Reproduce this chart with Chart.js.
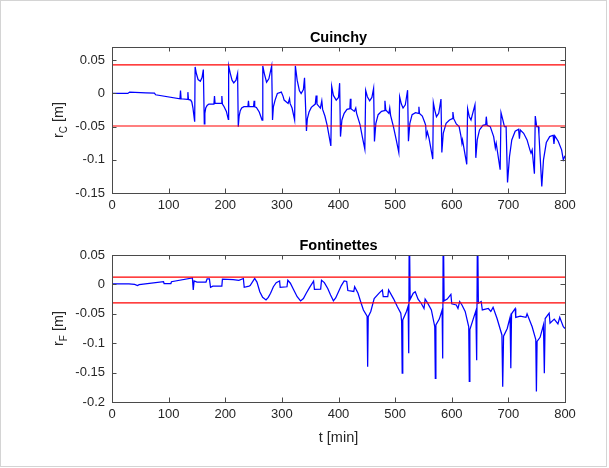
<!DOCTYPE html>
<html>
<head>
<meta charset="utf-8">
<script src="https://cdn.jsdelivr.net/npm/chart.js@4/dist/chart.umd.min.js"></script>
<style>
  body { margin: 0; background: #fff; }
  #fig { position: relative; width: 609px; height: 468px; background: #fff; }
  #fig canvas { position: absolute; left: 0; }
  #frame { position: absolute; left: 0; top: 0; width: 605px; height: 465px; border: 1px solid #d4d4d4; pointer-events: none; }
</style>
</head>
<body>
<div id="fig">
  <canvas id="cuinchy" width="609" height="220" style="top:0"></canvas>
  <canvas id="fontinettes" width="609" height="248" style="top:220px"></canvas>
  <div id="frame"></div>
</div>
<script>
// time axis [min]
const xTicks = [0, 100, 200, 300, 400, 500, 600, 700, 800];

// Cuinchy r_C [m]
const cuinchyT = [0, 28, 31, 60, 75, 77, 120, 121, 122, 133, 134, 135, 139, 141, 143, 146, 146.8, 149, 152, 156, 159, 161.3, 163, 164, 165.5, 168, 171,
  180, 181, 182, 193, 194, 195, 198, 202, 205.4, 206, 209, 212, 215, 219, 221.8, 223, 224.5, 226.5, 229, 233, 240, 241, 242, 250, 251, 252, 255, 260, 265,
  266.3, 269, 273, 277, 282, 283.5, 285, 288, 292, 299, 302, 304, 311, 313.5, 314.5, 318, 322.5, 323.8, 327, 331, 334, 338, 340, 343.4,
  345, 348, 352, 359, 360.5, 362, 368, 370.5, 372, 376, 380, 386.5, 388, 391, 396, 400, 402, 403.5, 406, 410, 415, 420, 421, 422, 428, 430.5, 432,
  438, 442, 446.5, 448, 451, 455, 459, 462, 463.5, 466, 470, 476, 481, 482, 483.5, 489, 490.5, 492, 497, 502, 506.5, 508, 511, 514, 518, 522, 523.5,
  526, 530, 536, 541, 542, 543, 548, 552, 554, 555, 557, 560, 566.5, 567.5, 570, 573, 577, 581, 582.5, 585, 590, 596, 601, 602, 603.5, 608, 613,
  616, 618, 619, 626.5, 628, 631, 634, 637, 641, 642.5, 645, 649, 655, 660, 661, 662.5, 668, 674, 677, 678.5, 685.5, 687, 690, 693, 696, 698.5,
  702, 706, 712, 718, 719.5, 721, 727, 733, 738, 740, 742, 746, 747.5, 750, 753, 754, 759, 762, 767, 773, 779, 780.5, 782, 788, 794, 797, 800];
const cuinchyR = [0, 0, 0.002, 0.001, 0.0005, -0.002, -0.008, 0.0045, -0.008, -0.009, 0.002, -0.009, -0.01, -0.013, -0.022, -0.0425, 0.04, 0.03, 0.021, 0.0185, 0.024, 0.036, -0.046, -0.03, -0.022, -0.018, -0.016,
  -0.016, -0.004, -0.015, -0.015, -0.004, -0.016, -0.02, -0.027, -0.039, 0.0415, 0.03, 0.02, 0.016, 0.02, 0.03, -0.05, -0.034, -0.026, -0.022, -0.02, -0.02, -0.011, -0.02, -0.02, -0.011, -0.02, -0.021, -0.028, -0.04,
  0.0415, 0.03, 0.017, 0.022, 0.0415, -0.04, -0.02, -0.01, 0, 0.002, -0.004, -0.01, -0.015, -0.008, -0.015, -0.022, -0.04, 0.0415, 0.02, 0.004, 0, 0.006, 0.0235, -0.0565,
  -0.038, -0.028, -0.021, -0.016, -0.003, -0.016, -0.022, -0.011, -0.024, -0.034, -0.048, -0.079, 0.0105, -0.003, -0.01, -0.006, 0.0155, -0.065, -0.04, -0.03, -0.024, -0.023, -0.008, -0.023, -0.027, -0.022, -0.03,
  -0.047, -0.065, -0.084, 0.0045, -0.005, -0.011, -0.006, 0.0075, -0.0725, -0.045, -0.032, -0.027, -0.026, -0.011, -0.025, -0.03, -0.022, -0.033, -0.05, -0.07, -0.089, -0.005, -0.016, -0.022, -0.017, 0.005, -0.072,
  -0.045, -0.032, -0.029, -0.03, -0.02, -0.03, -0.034, -0.043, -0.048, -0.065, -0.058, -0.068, -0.099, -0.014, -0.025, -0.035, -0.03, -0.0085, -0.089, -0.06, -0.045, -0.04, -0.038, -0.028, -0.038, -0.046, -0.05,
  -0.063, -0.075, -0.07, -0.107, -0.023, -0.035, -0.04, -0.03, -0.017, -0.097, -0.07, -0.055, -0.048, -0.047, -0.035, -0.048, -0.05, -0.065, -0.082, -0.075, -0.115, -0.029, -0.039, -0.05, -0.05, -0.134,
  -0.095, -0.07, -0.057, -0.054, -0.068, -0.055, -0.06, -0.07, -0.085, -0.09, -0.085, -0.121, -0.034, -0.05, -0.05, -0.062, -0.14, -0.1, -0.074, -0.065, -0.063, -0.076, -0.064, -0.072, -0.085, -0.1, -0.094];
const cuinchyLimits = [0.043, -0.049];
const cuinchyYTicks = [-0.15, -0.1, -0.05, 0, 0.05];

// Fontinettes r_F [m]
const fontT = [0, 30, 40, 45, 48, 91, 92, 104, 105, 142, 143.5, 145, 150, 166, 168, 172, 174, 178, 194, 195, 214, 224, 232, 233.5, 242, 244, 252, 256, 261, 266, 272, 276, 280, 285, 290,
  296, 297, 309, 310.5, 315, 321, 327, 333, 338, 343, 349, 356, 357.5, 368.5, 370, 375, 381, 386, 391, 395, 400, 405, 410, 414.5, 416.5, 427, 428.5, 434.5, 440, 444, 450.5, 451.5, 452.5,
  457, 463, 472.5, 477.5, 479, 487, 488.5, 497.5, 504, 510, 511.5, 512.5, 513.5, 520, 523, 524, 525, 526.5, 532, 535.5, 540.5, 546, 551, 553, 557, 564, 570, 571, 572, 578, 583, 584, 585,
  586.5, 592, 598.5, 600, 608, 611, 614, 618, 623.7, 630, 631, 632, 637.6, 642.6, 644, 645.5, 647, 652, 654, 664.6, 669, 673, 680, 688.6, 690, 691.5, 698, 703, 704.3, 705.6, 712, 713,
  721, 731, 733, 742, 748.4, 749.5, 750.7, 756, 762, 763.5, 765, 772, 773.6, 781, 787.5, 790.7, 797, 800];
const fontR = [0.001, 0.001, 0, -0.002, -0.0005, 0.0045, 0.0015, 0.0015, 0.0045, 0.011, -0.0095, 0.006, 0.004, 0.004, 0.0095, 0.0095, -0.005, -0.003, -0.003, 0.009, 0.008, 0.007, 0.01, -0.005, -0.003, -0.002, 0.01, 0.004, -0.0125, -0.022, -0.0265, -0.022, -0.015, -0.004, 0.003,
  0.006, -0.005, -0.004, 0.007, 0.002, -0.0095, -0.021, -0.028, -0.024, -0.015, -0.005, 0.0057, -0.0085, -0.008, 0.007, 0.003, -0.007, -0.018, -0.028, -0.023, -0.0125, -0.002, 0.006, 0.005, -0.0105, -0.012, -0.004, -0.015, -0.032, -0.0435, -0.054, -0.14, -0.055,
  -0.046, -0.024, -0.014, -0.0095, -0.021, -0.021, -0.0095, -0.025, -0.038, -0.049, -0.063, -0.151, -0.0605, -0.046, -0.037, -0.117, 0.12, -0.0255, -0.015, -0.0125, -0.025, -0.032, -0.041, -0.025, -0.031, -0.0435, -0.072, -0.16, -0.069, -0.059, -0.0435, -0.126, 0.12,
  -0.028, -0.025, -0.017, -0.033, -0.035, -0.041, -0.029, -0.035, -0.046, -0.072, -0.165, -0.077, -0.06, -0.045, -0.129, 0.12, -0.032, -0.029, -0.0435, -0.041, -0.046, -0.039, -0.058, -0.086, -0.174, -0.088, -0.075, -0.056, -0.1425, -0.05, -0.041, -0.056,
  -0.054, -0.056, -0.05, -0.072, -0.094, -0.182, -0.097, -0.09, -0.069, -0.151, -0.058, -0.049, -0.066, -0.059, -0.067, -0.056, -0.072, -0.075];
const fontLimits = [0.0124, -0.0315];
const fontYTicks = [-0.2, -0.15, -0.1, -0.05, 0, 0.05];

const FONT = "'Liberation Sans', Arial, Helvetica, sans-serif";
const AX = '#262626';

// MATLAB-style box with inward ticks, title and labels
const matlabAxes = {
  id: 'matlabAxes',
  afterDraw(chart, args, opts) {
    const c = chart.ctx, a = chart.chartArea;
    const xs = chart.scales.x, ys = chart.scales.y;
    c.save();
    c.strokeStyle = '#4a4a4a';
    c.lineWidth = 1;
    c.strokeRect(Math.round(a.left) + 0.5, Math.round(a.top) + 0.5, Math.round(a.right - a.left), Math.round(a.bottom - a.top));
    const tl = 4.5;
    c.beginPath();
    xTicks.forEach(v => {
      const px = Math.round(xs.getPixelForValue(v)) + 0.5;
      c.moveTo(px, a.bottom); c.lineTo(px, a.bottom - tl);
      c.moveTo(px, a.top); c.lineTo(px, a.top + tl);
    });
    opts.yTicks.forEach(v => {
      const py = Math.round(ys.getPixelForValue(v)) + 0.5;
      c.moveTo(a.left, py); c.lineTo(a.left + tl, py);
      c.moveTo(a.right, py); c.lineTo(a.right - tl, py);
    });
    c.stroke();

    // title
    c.fillStyle = '#000';
    c.font = 'bold 14.5px ' + FONT;
    c.textAlign = 'center';
    c.textBaseline = 'bottom';
    c.fillText(opts.title, (a.left + a.right) / 2, a.top - 2);

    // y label with subscript
    c.fillStyle = AX;
    c.translate(opts.ylabelX, (a.top + a.bottom) / 2);
    c.rotate(-Math.PI / 2);
    const big = '14.5px ' + FONT, small = '10px ' + FONT;
    c.font = big; const w1 = c.measureText('r').width, w3 = c.measureText(' [m]').width;
    c.font = small; const w2 = c.measureText(opts.sub).width;
    let x0 = -(w1 + w2 + w3) / 2;
    c.textAlign = 'left';
    c.textBaseline = 'alphabetic';
    c.font = big; c.fillText('r', x0, 5);
    c.font = small; c.fillText(opts.sub, x0 + w1, 9);
    c.font = big; c.fillText(' [m]', x0 + w1 + w2, 5);
    c.restore();

    if (opts.xlabel) {
      c.save();
      c.fillStyle = AX;
      c.font = '14.5px ' + FONT;
      c.textAlign = 'center';
      c.textBaseline = 'middle';
      c.fillText(opts.xlabel, (a.left + a.right) / 2, a.bottom + 36);
      c.restore();
    }
  }
};

function pts(t, r) { return t.map((v, i) => ({ x: v, y: r[i] })); }
function hline(v) { return [{ x: 0, y: v }, { x: 800, y: v }]; }

function makeChart(id, t, r, limits, yTicks, ymin, ymax, top, xH, opts) {
  const lineDs = (data, color, w) => ({ data, borderColor: color, borderWidth: w, pointRadius: 0, tension: 0, fill: false });
  return new Chart(document.getElementById(id), {
    type: 'line',
    data: {
      datasets: [
        lineDs(hline(limits[0]), '#ff0000', 1.1),
        lineDs(hline(limits[1]), '#ff0000', 1.1),
        lineDs(pts(t, r), '#0000ff', 1.25)
      ]
    },
    options: {
      responsive: false,
      animation: false,
      events: [],
      layout: { padding: { left: 0, right: 44, top: top, bottom: 0 } },
      plugins: { legend: { display: false }, title: { display: false }, tooltip: { enabled: false }, matlabAxes: opts },
      scales: {
        x: {
          type: 'linear', min: 0, max: 800,
          afterBuildTicks: s => { s.ticks = xTicks.map(v => ({ value: v })); },
          afterFit: s => { s.height = xH; },
          grid: { display: false, drawTicks: false },
          border: { display: false },
          ticks: { color: AX, font: { family: FONT, size: 13 }, padding: 5, maxRotation: 0, autoSkip: false, callback: v => String(v) }
        },
        y: {
          type: 'linear', min: ymin, max: ymax,
          afterBuildTicks: s => { s.ticks = yTicks.map(v => ({ value: v })); },
          afterFit: s => { s.width = 112; },
          grid: { display: false, drawTicks: false },
          border: { display: false },
          ticks: { color: AX, font: { family: FONT, size: 13 }, padding: 7, autoSkip: false, callback: v => String(+v.toFixed(3)) }
        }
      }
    },
    plugins: [matlabAxes]
  });
}

makeChart('cuinchy', cuinchyT, cuinchyR, cuinchyLimits, cuinchyYTicks, -0.15, 0.07, 47, 27,
  { title: 'Cuinchy', sub: 'C', yTicks: cuinchyYTicks, ylabelX: 58 });
makeChart('fontinettes', fontT, fontR, fontLimits, fontYTicks, -0.2, 0.05, 35, 66,
  { title: 'Fontinettes', sub: 'F', yTicks: fontYTicks, ylabelX: 58, xlabel: 't [min]' });
</script>
</body>
</html>
